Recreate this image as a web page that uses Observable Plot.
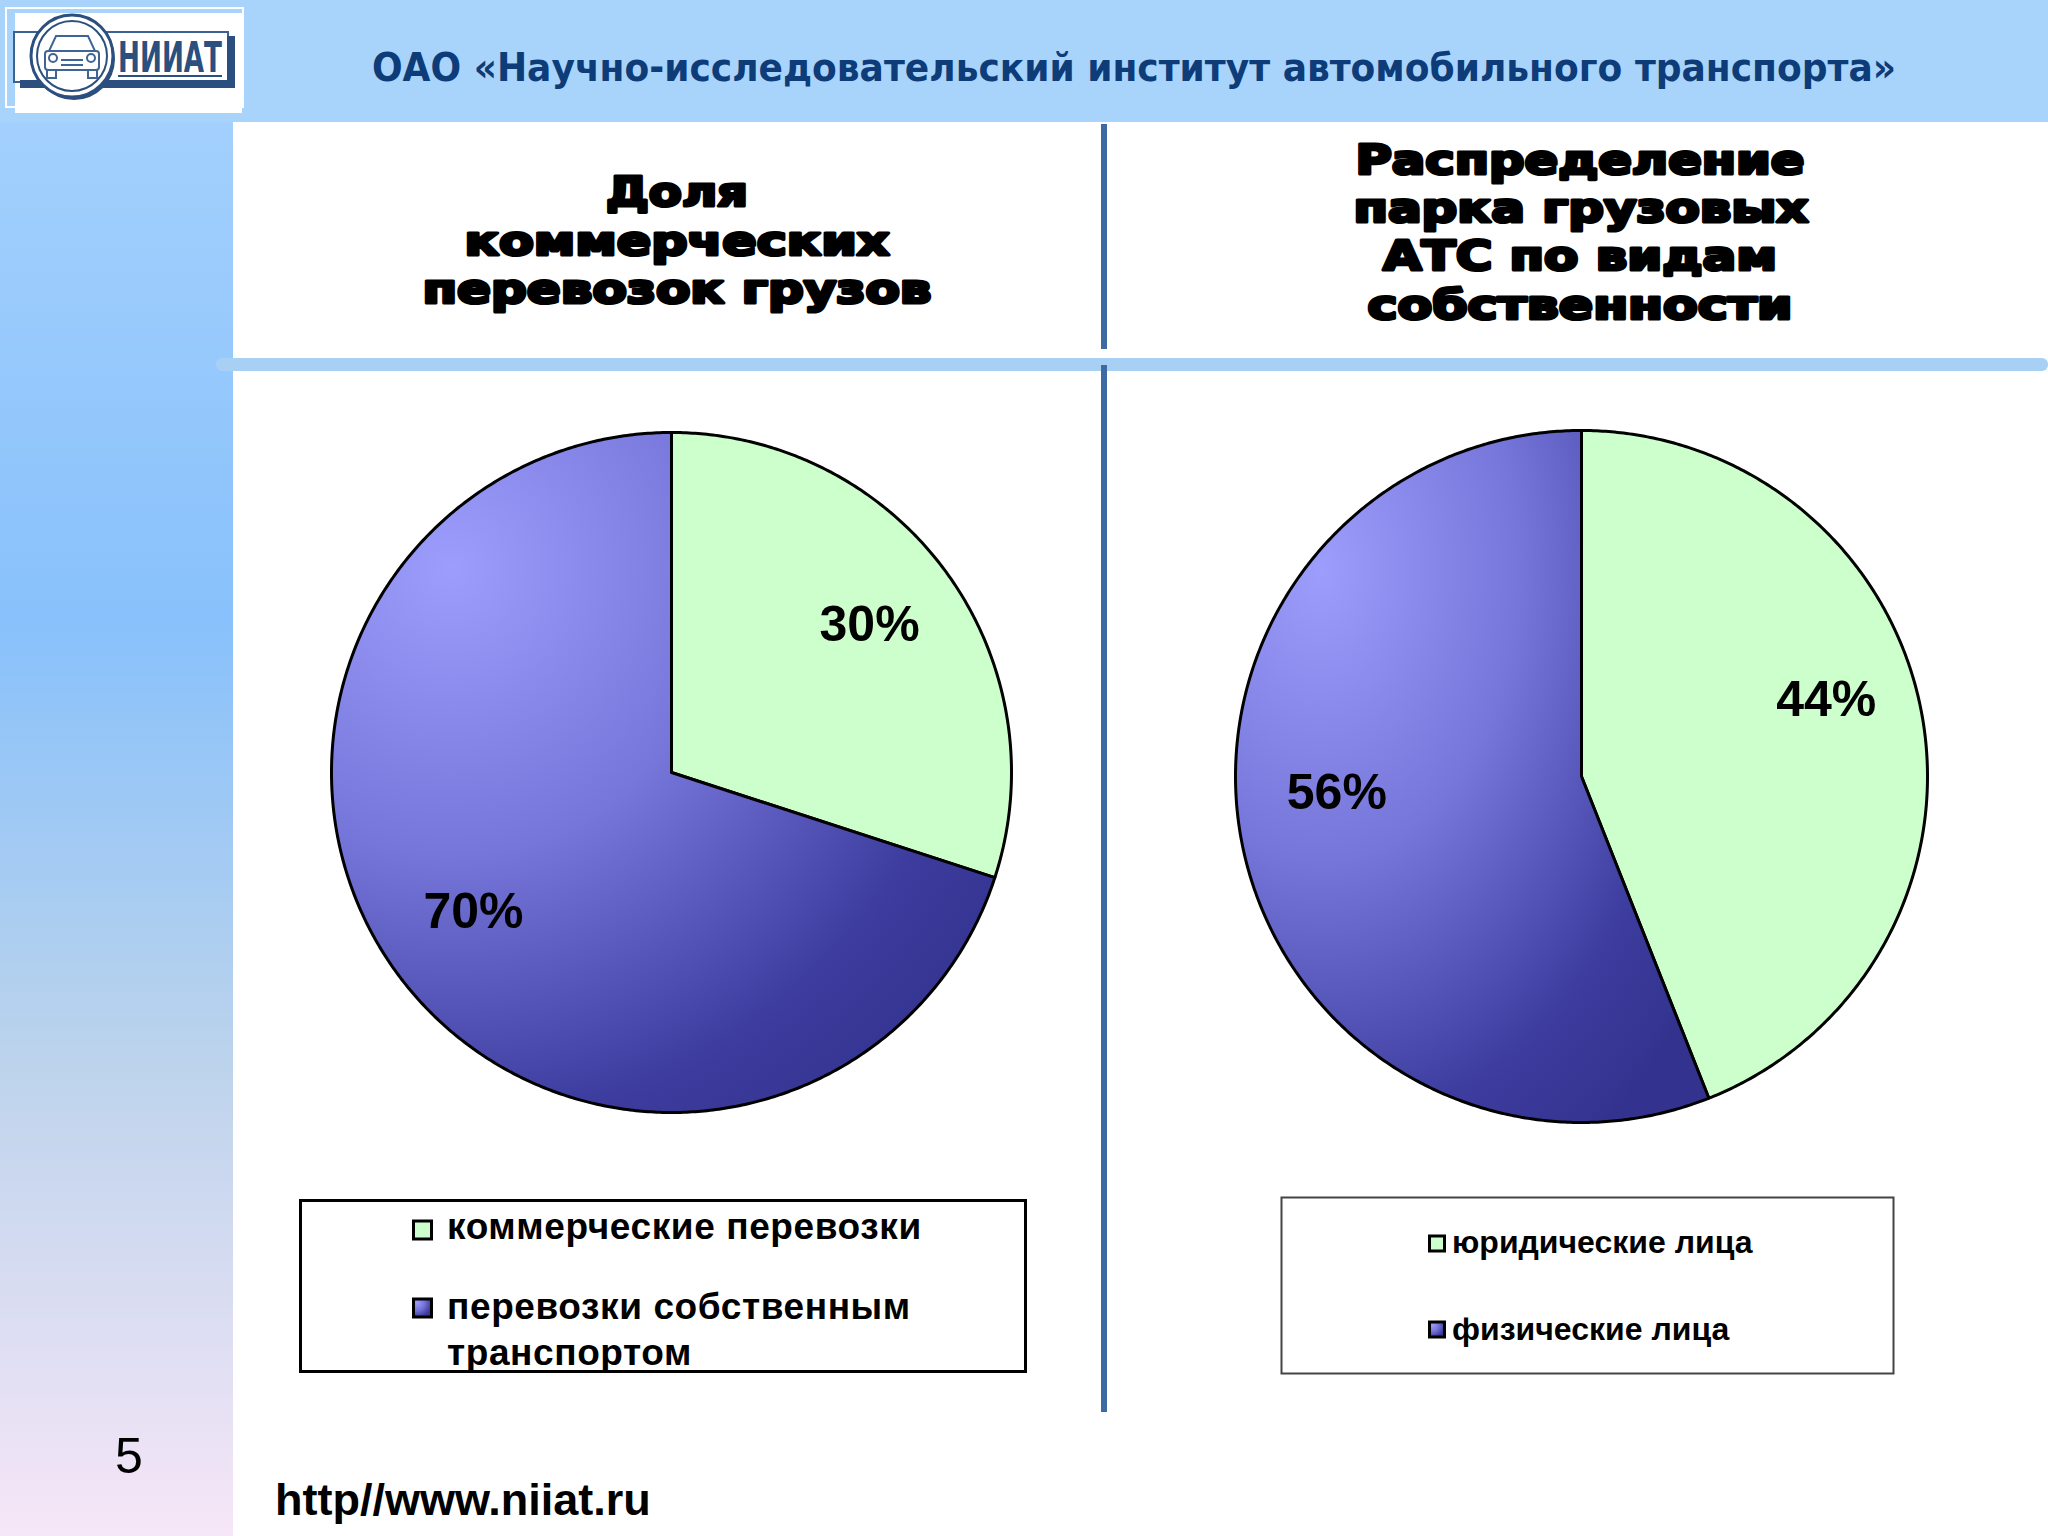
<!DOCTYPE html>
<html><head><meta charset="utf-8">
<script src="https://cdn.jsdelivr.net/npm/d3@7"></script>
<script src="https://cdn.jsdelivr.net/npm/@observablehq/plot@0.6"></script>
<style>
html,body{margin:0;padding:0;background:#fff;}
#page{position:relative;width:2048px;height:1536px;overflow:hidden;background:#fff;}
#deco{position:absolute;left:0;top:0;}
</style></head>
<body><div id="page">
<svg id="deco" width="2048" height="1536" xmlns="http://www.w3.org/2000/svg">
<defs>
 <linearGradient id="stripGrad" x1="0" y1="0" x2="0" y2="1">
  <stop offset="0" stop-color="#a3d0fd"/>
  <stop offset="0.354" stop-color="#88c1fb"/>
  <stop offset="0.664" stop-color="#bcd3ec"/>
  <stop offset="1" stop-color="#f6e6f7"/>
 </linearGradient>
 <radialGradient id="blueGrad" cx="0.18" cy="0.2" r="1.0" fx="0.18" fy="0.2">
  <stop offset="0" stop-color="#9d9dfd"/>
  <stop offset="0.42" stop-color="#7676da"/>
  <stop offset="0.8" stop-color="#3e3da0"/>
  <stop offset="1" stop-color="#33338f"/>
 </radialGradient>
</defs>
<rect x="0" y="0" width="2048" height="122" fill="#a8d4fc"/>
<rect x="0" y="122" width="233" height="1414" fill="url(#stripGrad)"/>
<rect x="216" y="358" width="1832" height="13" rx="6" fill="#a8d0f5"/>
<rect x="1101" y="124" width="6" height="225" fill="#3d6aa3"/>
<rect x="1101" y="365" width="6" height="1047" fill="#3d6aa3"/>
<!-- logo -->
<g id="logo">
 <rect x="6" y="8" width="237" height="99" fill="none" stroke="#fff" stroke-width="2"/>
 <rect x="15" y="13" width="227" height="100" fill="#fff"/>
 <rect x="14" y="32" width="214" height="50" fill="none" stroke="#3b6290" stroke-width="2"/>
 <rect x="20" y="80" width="215" height="8" fill="#2b4f7e"/>
 <rect x="227" y="36" width="8" height="52" fill="#2b4f7e"/>
 <circle cx="74" cy="59" r="41" fill="#2b4f7e"/>
 <circle cx="72" cy="56" r="41" fill="#fff" stroke="#2b4f7e" stroke-width="3"/>
 <circle cx="72" cy="56" r="35" fill="none" stroke="#2b4f7e" stroke-width="2"/>
 <g fill="none" stroke="#3f6594" stroke-width="2">
  <path d="M56,36 L88,36 L95,51 L49,51 Z"/>
  <rect x="45" y="51" width="54" height="19" rx="3"/>
  <rect x="47" y="70" width="9" height="8"/>
  <rect x="88" y="70" width="9" height="8"/>
  <circle cx="53" cy="58" r="4"/>
  <circle cx="91" cy="58" r="4"/>
  <line x1="61" y1="60" x2="83" y2="60"/>
  <line x1="61" y1="65" x2="83" y2="65"/>
 </g>
 <text x="118" y="72" font-family="DejaVu Sans" font-weight="bold" font-size="42" fill="#2b4f7e" textLength="104" lengthAdjust="spacingAndGlyphs">НИИАТ</text>
 <line x1="118" x2="222" y1="76" y2="76" stroke="#2b4f7e" stroke-width="2"/>
</g>
<text x="372" y="81" font-family="DejaVu Sans" font-weight="bold" font-size="39" fill="#0d3c78" textLength="1524" lengthAdjust="spacingAndGlyphs">ОАО «Научно-исследовательский институт автомобильного транспорта»</text>
<g font-family="DejaVu Sans" font-weight="bold" font-size="41" text-anchor="middle" fill="#000" stroke="#000" stroke-width="3.2" stroke-linejoin="round" lengthAdjust="spacingAndGlyphs">
 <text x="677" y="206" textLength="142" lengthAdjust="spacingAndGlyphs">Доля</text>
 <text x="677" y="255" textLength="425" lengthAdjust="spacingAndGlyphs">коммерческих</text>
 <text x="677" y="303" textLength="509" lengthAdjust="spacingAndGlyphs">перевозок грузов</text>
 <text x="1580" y="174" textLength="449" lengthAdjust="spacingAndGlyphs">Распределение</text>
 <text x="1581" y="222" textLength="455" lengthAdjust="spacingAndGlyphs">парка грузовых</text>
 <text x="1580" y="270" textLength="394" lengthAdjust="spacingAndGlyphs">АТС по видам</text>
 <text x="1580" y="319" textLength="425" lengthAdjust="spacingAndGlyphs">собственности</text>
</g>
<text x="115" y="1473" font-family="'Liberation Sans', Arial, sans-serif" font-size="50" fill="#000">5</text>
<text x="275" y="1515" font-family="'Liberation Sans', Arial, sans-serif" font-weight="bold" font-size="45" fill="#000">http//www.niiat.ru</text>
<g id="legends"></g>
</svg>
</div>
<script>
// ---- data ----
const leftCategories = ["коммерческие перевозки", "перевозки собственным транспортом"];
const leftValues = [30, 70];
const rightCategories = ["юридические лица", "физические лица"];
const rightValues = [44, 56];

// ---- styles ----
const sliceFills = ["#ccffcc", "url(#blueGrad)"];
const page = document.getElementById("page");

function makePie(values, r, cx, cy, labelDy) {
  const pad = 12;
  const size = 2 * r + 2 * pad;
  const total = d3.sum(values);
  const arcs = d3.pie().sort(null).value(d => d)(values);
  const step = Math.PI / 360;
  const outline = arcs.flatMap((a, i) => {
    const n = Math.max(2, Math.ceil((a.endAngle - a.startAngle) / step));
    const pts = [{k: i, fill: sliceFills[i], x: 0, y: 0}];
    for (let j = 0; j <= n; j++) {
      const t = a.startAngle + (a.endAngle - a.startAngle) * j / n;
      pts.push({k: i, fill: sliceFills[i], x: Math.sin(t), y: Math.cos(t)});
    }
    pts.push({k: i, fill: sliceFills[i], x: 0, y: 0});
    return pts;
  });
  const labels = arcs.map((a, i) => {
    const m = (a.startAngle + a.endAngle) / 2;
    return {x: 0.72 * Math.sin(m), y: 0.72 * Math.cos(m), text: `${Math.round(values[i] / total * 100)}%`};
  });
  const svg = Plot.plot({
    width: size, height: size, margin: pad,
    x: {domain: [-1, 1], axis: null},
    y: {domain: [-1, 1], axis: null},
    color: {type: "identity"},
    style: {background: "transparent", overflow: "visible"},
    marks: [
      Plot.line(outline, {x: "x", y: "y", z: "k", fill: "fill", stroke: "#000", strokeWidth: 3, strokeLinejoin: "round"}),
      Plot.text(labels, {x: "x", y: "y", text: "text", fontSize: 50, fontWeight: "bold", dy: labelDy,
        fontFamily: "'Liberation Sans', Arial, sans-serif", fill: "#000"})
    ]
  });
  svg.style.position = "absolute";
  svg.style.left = (cx - size / 2) + "px";
  svg.style.top = (cy - size / 2) + "px";
  svg.style.maxWidth = "none";
  page.appendChild(svg);
}

makePie(leftValues, 340, 671, 772, -4);
makePie(rightValues, 346, 1581, 776, -30);

function wrapWords(s, maxChars) {
  const words = s.split(" ");
  const lines = [];
  let cur = "";
  for (const w of words) {
    if (cur && (cur + " " + w).length > maxChars) { lines.push(cur); cur = w; }
    else cur = cur ? cur + " " + w : w;
  }
  if (cur) lines.push(cur);
  return lines;
}

function legend(cats, o) {
  const g = d3.select("#legends").append("g");
  g.append("rect").attr("x", o.box[0]).attr("y", o.box[1]).attr("width", o.box[2]).attr("height", o.box[3])
    .attr("fill", "#fff").attr("stroke", o.boxStroke).attr("stroke-width", o.boxWidth);
  cats.forEach((c, i) => {
    g.append("rect").attr("x", o.sx).attr("y", o.sy[i]).attr("width", o.ss).attr("height", o.ss)
      .attr("fill", sliceFills[i]).attr("stroke", "#000").attr("stroke-width", 3);
    const t = g.append("text").attr("x", o.tx).attr("y", o.ty[i])
      .attr("font-family", "'Liberation Sans', Arial, sans-serif").attr("font-weight", "bold")
      .attr("font-size", o.fs).attr("letter-spacing", o.ls).attr("fill", "#000");
    wrapWords(c, o.wrap).forEach((line, j) => {
      t.append("tspan").attr("x", o.tx).attr("dy", j === 0 ? 0 : o.lh).text(line);
    });
  });
}

legend(leftCategories, {box: [300.5, 1200.5, 725, 171], boxStroke: "#000", boxWidth: 3,
  sx: 413.5, sy: [1221, 1299], ss: 18, tx: 447, ty: [1239, 1319], fs: 37, ls: 0.6, lh: 46, wrap: 22});
legend(rightCategories, {box: [1281.5, 1197.5, 612, 176], boxStroke: "#444", boxWidth: 2,
  sx: 1429.5, sy: [1236, 1322], ss: 15, tx: 1452, ty: [1253, 1340], fs: 32, ls: 0, lh: 40, wrap: 60});
</script>
</body></html>
